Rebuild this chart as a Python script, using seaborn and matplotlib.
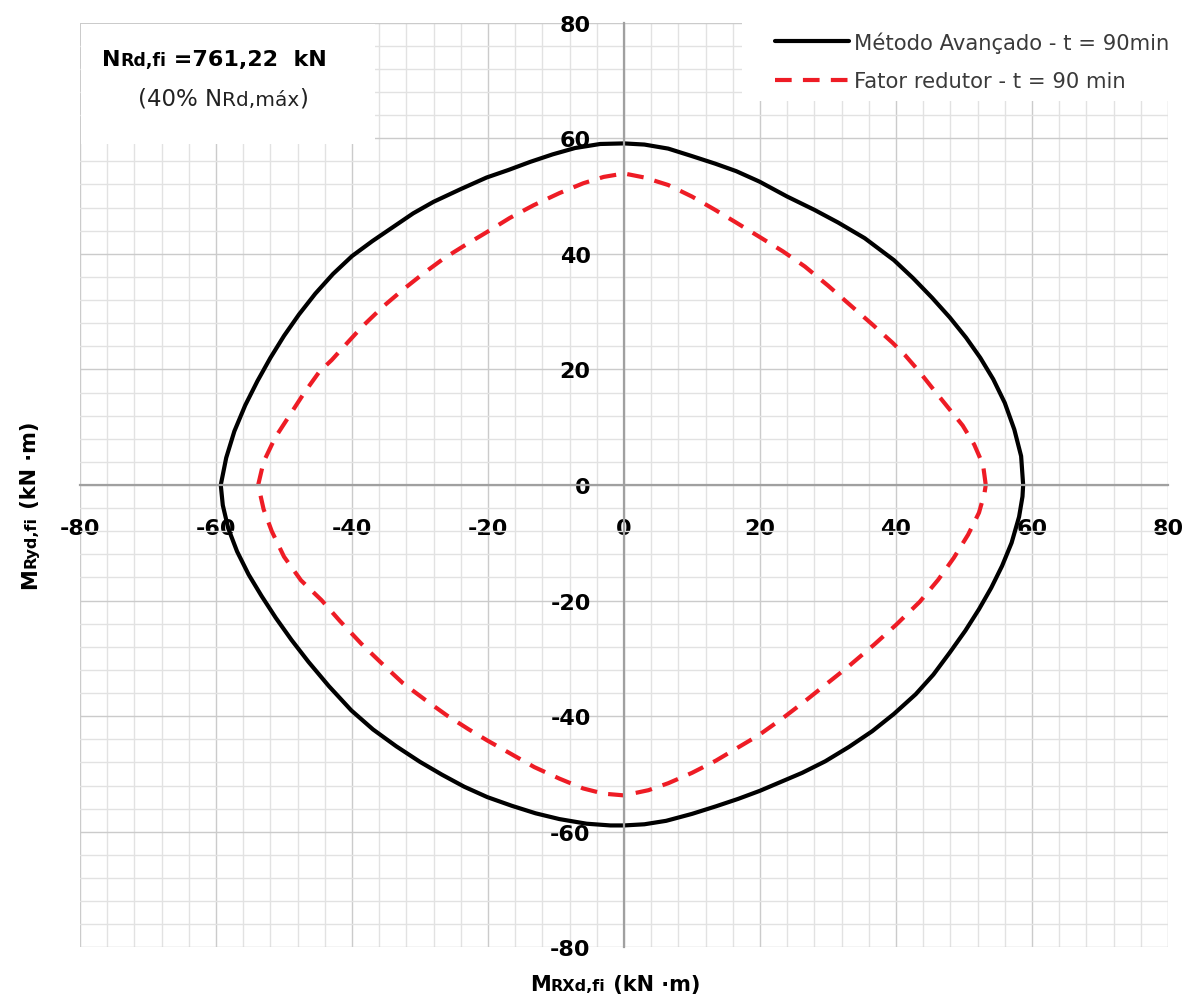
import matplotlib
matplotlib.use("Agg")
import matplotlib.pyplot as plt
from matplotlib.ticker import MultipleLocator, FuncFormatter
from matplotlib.patches import Rectangle
import seaborn as sns

# Interaction curve, advanced method (t = 90 min), kN.m
mrx_avancado = [58.7, 58.4, 57.4, 56.0, 54.3, 52.4, 50.3, 47.9, 45.3, 42.5, 39.7, 35.4, 31.5, 28.0,
                24.0, 19.9, 16.5, 13.4, 10.0, 6.5, 3.0, 0.0,
                -3.5, -7.2, -10.5, -13.8, -17.0, -20.2, -24.0, -28.0, -31.0, -34.0, -37.0, -40.0,
                -42.8, -45.4, -47.8, -50.0, -52.0, -53.9, -55.7, -57.3, -58.5, -59.3,
                -59.0, -58.2, -56.9, -55.2, -53.3, -51.2, -48.9, -46.4, -43.4, -40.1, -36.9, -33.5,
                -30.0, -26.8, -23.5, -20.1, -16.5, -13.0, -9.5, -5.5, -2.0, 0.0,
                3.0, 6.2, 10.0, 13.5, 16.8, 20.0, 23.0, 26.2, 29.6, 33.1, 36.5, 39.7, 42.9, 45.5,
                47.9, 50.2, 52.2, 54.0, 55.6, 57.0, 58.1, 58.6, 58.7]
mry_avancado = [0.0, 5.0, 9.6, 14.2, 18.3, 22.0, 25.5, 29.0, 32.4, 35.8, 38.9, 42.7, 45.4, 47.6,
                49.9, 52.5, 54.3, 55.6, 56.9, 58.2, 58.9, 59.1,
                59.0, 58.3, 57.2, 55.9, 54.5, 53.2, 51.2, 49.0, 47.0, 44.6, 42.2, 39.6,
                36.5, 33.1, 29.5, 25.8, 22.0, 18.0, 13.8, 9.3, 4.7, 0.0,
                -3.5, -7.5, -11.5, -15.5, -19.2, -23.0, -26.8, -30.6, -34.8, -39.0, -42.3, -45.2,
                -47.9, -50.1, -52.2, -54.0, -55.5, -56.8, -57.8, -58.6, -58.9, -58.9,
                -58.7, -58.1, -56.9, -55.6, -54.3, -52.9, -51.4, -49.8, -47.8, -45.3, -42.6, -39.6,
                -36.2, -32.8, -29.0, -25.2, -21.5, -17.8, -14.0, -10.0, -5.5, -2.0, 0.0]

# Interaction curve, reduction factor method (t = 90 min), kN.m
mrx_fator = [53.2, 52.8, 51.5, 49.8, 47.8, 45.6, 43.3, 41.3, 39.5, 36.5, 33.2, 30.0, 26.6, 23.4,
             20.1, 16.5, 13.4, 10.0, 6.5, 3.0, 0.0,
             -3.0, -6.0, -9.5, -13.3, -16.8, -20.1, -23.5, -26.5, -29.5, -32.5, -35.5, -38.5,
             -41.0, -43.0, -44.8, -47.0, -49.2, -51.3, -53.0, -53.8,
             -53.0, -51.8, -50.0, -47.5, -44.5, -41.8, -38.6, -35.5, -32.5, -29.2, -26.0, -22.8,
             -20.1, -16.5, -13.2, -9.5, -6.0, -3.0, 0.0,
             3.6, 6.5, 10.0, 13.5, 16.5, 19.8, 23.5, 26.5, 29.8, 33.0, 36.8, 40.0, 43.5, 46.2,
             48.5, 50.6, 52.2, 53.0, 53.2]
mry_fator = [0.0, 3.5, 7.0, 10.3, 13.2, 16.4, 19.8, 22.5, 24.6, 27.8, 31.2, 34.5, 37.8, 40.4,
             42.8, 45.4, 47.6, 49.9, 51.9, 53.2, 53.9,
             53.3, 52.2, 50.5, 48.4, 46.2, 43.8, 41.4, 39.2, 36.6, 33.8, 30.8, 27.4,
             24.2, 21.6, 19.6, 16.0, 12.0, 8.2, 4.0, 0.0,
             -4.2, -8.0, -12.4, -16.5, -19.9, -23.5, -27.5, -31.0, -34.3, -37.2, -39.9, -42.3,
             -44.2, -46.6, -48.8, -50.8, -52.5, -53.4, -53.7,
             -52.8, -51.6, -49.8, -47.7, -45.6, -43.3, -40.2, -37.5, -34.4, -31.4, -27.6, -24.2,
             -20.2, -16.4, -12.6, -8.6, -4.8, -1.5, 0.0]

series_labels = ["Método Avançado - t = 90min", "Fator redutor - t = 90 min"]
axis_limits = (-80, 80)

W, H = 1183, 995

sns.set_theme(style="white")
plt.rcParams["font.family"] = ["DejaVu Sans"]

fig = plt.figure(figsize=(W / 100, H / 100), dpi=100)
fig.patch.set_facecolor("white")
renderer = fig.canvas.get_renderer()

# plot area in pixels: x from 80 to 1168, y from 23.6 to 948.4 (top-down)
ax = fig.add_axes([80 / W, 1 - 948.4 / H, 1088 / W, 924.8 / H])
ax.set_facecolor("white")

sns.lineplot(x=mrx_avancado, y=mry_avancado, sort=False, estimator=None, ax=ax,
             color="black", linewidth=3.0, label=series_labels[0])
sns.lineplot(x=mrx_fator, y=mry_fator, sort=False, estimator=None, ax=ax,
             color="#ee1c25", linewidth=3.0, label=series_labels[1])
ax.lines[0].set_solid_joinstyle("round")
ax.lines[1].set_dashes([4.0, 2.7])
handles, labels = ax.get_legend_handles_labels()
if ax.get_legend() is not None:
    ax.get_legend().remove()

ax.set_xlim(*axis_limits)
ax.set_ylim(*axis_limits)

for a in (ax.xaxis, ax.yaxis):
    a.set_major_locator(MultipleLocator(20))
    a.set_minor_locator(MultipleLocator(4))
    a.set_major_formatter(FuncFormatter(lambda v, p: f"{v:.0f}"))

ax.grid(which="major", color="#cbcbcb", linewidth=1.0, zorder=0)
ax.grid(which="minor", color="#e2e2e2", linewidth=1.0, zorder=0)
ax.set_axisbelow(True)

ax.spines["left"].set_position(("data", 0))
ax.spines["bottom"].set_position(("data", 0))
for s in ("left", "bottom"):
    ax.spines[s].set_color("#a0a0a0")
    ax.spines[s].set_linewidth(1.6)
ax.spines["top"].set_visible(False)
ax.spines["right"].set_visible(False)

ax.tick_params(which="major", direction="out", length=4, width=1.2, color="#a0a0a0",
               labelsize=16, labelcolor="black", pad=20)
ax.tick_params(which="minor", length=0)
ax.set_xlabel("")
ax.set_ylabel("")

# white panels over the grid behind the legend and the load annotation
fig.add_artist(Rectangle((81 / W, 1 - 145 / H), (375 - 81) / W, (145 - 25) / H,
                         transform=fig.transFigure, facecolor="white", edgecolor="none", zorder=1))
fig.add_artist(Rectangle((742 / W, 1 - 102 / H), (W - 742) / W, 102 / H,
                         transform=fig.transFigure, facecolor="white", edgecolor="none", zorder=1))

fig.legend(handles, labels, loc="upper left", bbox_to_anchor=(775 / W, 1 - 32 / H),
           frameon=False, borderaxespad=0, borderpad=0, handlelength=3.5,
           handletextpad=0.22, labelspacing=0.9, fontsize=15.2, labelcolor="#3a3a3a")


def run_width(s, size, weight):
    t = fig.text(0, 0, "|" + s + "|", fontsize=size, fontweight=weight)
    w1 = t.get_window_extent(renderer).width
    t.set_text("||")
    w2 = t.get_window_extent(renderer).width
    t.remove()
    return w1 - w2


def draw_runs(runs, x, y, rotation=0, center=False, color="black"):
    """Draw text pieces of mixed size on one baseline; x, y in pixels from top-left."""
    widths = [run_width(s, size, weight) for s, size, weight in runs]
    total = sum(widths)
    if rotation == 0:
        pos = x - total / 2 if center else x
        for (s, size, weight), w in zip(runs, widths):
            fig.text(pos / W, 1 - y / H, s, fontsize=size, fontweight=weight, color=color,
                     ha="left", va="baseline", zorder=4)
            pos += w
    else:
        pos = (H - y) - total / 2 if center else (H - y)
        for (s, size, weight), w in zip(runs, widths):
            fig.text(x / W, pos / H, s, fontsize=size, fontweight=weight, color=color,
                     ha="left", va="baseline", rotation=90, rotation_mode="anchor", zorder=4)
            pos += w


# load annotation
draw_runs([("N", 16, "bold"), ("Rd,fi", 12.5, "bold"), (" =761,22  kN", 16, "bold")],
          102, 66)
draw_runs([("(40% N", 16.5, "normal"), ("Rd,máx", 14.5, "normal"), (")", 16.5, "normal")],
          138, 106, color="#222222")

# axis titles
draw_runs([("M", 15, "bold"), ("RXd,fi", 11.5, "bold"), (" (kN ·m)", 15, "bold")],
          615, 991, center=True)
draw_runs([("M", 15, "bold"), ("Ryd,fi", 11.5, "bold"), (" (kN ·m)", 15, "bold")],
          36, 505, rotation=90, center=True)

# tick labels in bold (set once the ticks exist)
fig.canvas.draw()
for lab in ax.get_xticklabels() + ax.get_yticklabels():
    lab.set_fontweight("bold")

fig.savefig("out.png", dpi=100, facecolor="white")
